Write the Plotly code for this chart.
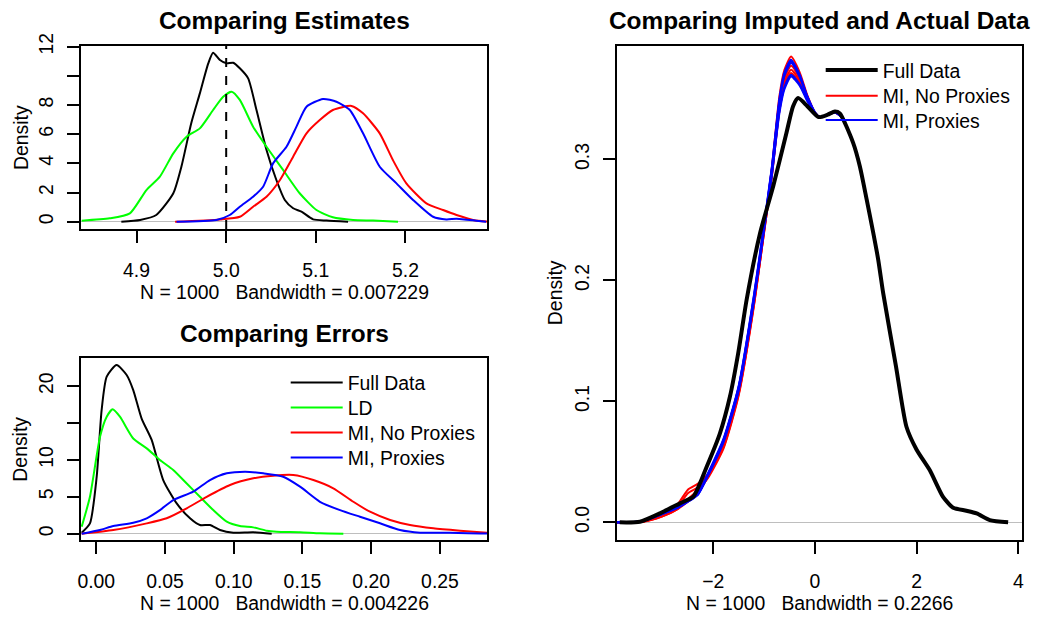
import plotly.graph_objects as go

# ---------------- data: Comparing Estimates (top-left) ----------------
EST_FULL_X = [4.883, 4.904, 4.922, 4.941, 4.950, 4.961, 4.9706, 4.980, 4.9854, 4.993, 5.0004, 5.0078,
              5.0152, 5.0245, 5.0338, 5.045, 5.056, 5.0654, 5.0747, 5.084, 5.097, 5.112, 5.136]
EST_FULL_Y = [0.0, 0.12, 0.46, 1.95, 3.77, 6.75, 8.8, 10.86, 11.59, 11.09, 10.86, 10.9,
              10.52, 9.83, 7.66, 4.92, 2.86, 1.49, 0.92, 0.69, 0.16, 0.08, 0.0]

EST_LD_X = [4.8387, 4.870, 4.8925, 4.911, 4.926, 4.941, 4.9558, 4.9706, 4.9854, 4.9966, 5.006, 5.0152,
            5.030, 5.045, 5.0635, 5.082, 5.1007, 5.119, 5.1416, 5.1638, 5.1917]
EST_LD_Y = [0.07, 0.23, 0.57, 2.17, 3.09, 4.69, 5.83, 6.4, 7.66, 8.57, 8.92, 8.35,
            6.52, 5.14, 3.55, 1.95, 0.80, 0.30, 0.12, 0.08, 0.0]

EST_MINP_X = [4.943, 4.993, 5.0152, 5.030, 5.045, 5.060, 5.0747, 5.0896, 5.1044, 5.119, 5.1398, 5.1527,
              5.1713, 5.186, 5.201, 5.2234, 5.242, 5.257, 5.2754, 5.29, 5.30]
EST_MINP_Y = [0.0, 0.16, 0.34, 1.03, 1.71, 2.86, 4.46, 6.06, 6.97, 7.66, 7.94, 7.43,
              6.06, 4.23, 2.63, 1.26, 0.80, 0.46, 0.12, 0.02, 0.0]

EST_MIP_X = [4.9446, 4.989, 5.004, 5.0152, 5.030, 5.0412, 5.0523, 5.0673, 5.0784, 5.0896, 5.108, 5.123,
             5.1379, 5.1527, 5.1713, 5.190, 5.2085, 5.2308, 5.2457, 5.257, 5.279, 5.29]
EST_MIP_Y = [0.0, 0.12, 0.46, 1.03, 1.71, 2.4, 4.0, 5.14, 6.52, 7.89, 8.42, 8.23,
             7.66, 6.06, 3.77, 2.63, 1.49, 0.34, 0.16, 0.2, 0.07, 0.0]

TRUE_VALUE = 5.0

# ---------------- data: Comparing Errors (bottom-left) ----------------
ERR_FULL_X = [-0.0106, -0.0046, 0.0003, 0.0039, 0.0076, 0.0148, 0.0221, 0.0269, 0.033, 0.0403, 0.0487,
              0.0585, 0.0682, 0.0754, 0.0827, 0.09, 0.0997, 0.1142, 0.1276]
ERR_FULL_Y = [0.14, 1.4, 7.7, 16.75, 21.27, 22.85, 21.5, 19.46, 15.6, 12.7, 7.27,
              4.1, 2.09, 1.18, 1.18, 0.5, 0.14, 0.2, 0.0]

ERR_LD_X = [-0.0106, -0.0046, 0.0027, 0.0076, 0.0119, 0.0172, 0.0269, 0.0367, 0.0463, 0.056, 0.0658,
            0.0754, 0.0851, 0.0949, 0.1045, 0.1142, 0.124, 0.1312, 0.1482, 0.1627, 0.1797]
ERR_LD_Y = [0.95, 5.0, 13.1, 15.85, 16.85, 15.85, 12.9, 11.56, 9.98, 8.63, 6.8,
            5.0, 3.2, 1.63, 1.04, 0.86, 0.41, 0.27, 0.2, 0.05, 0.0]

ERR_MINP_X = [-0.0106, 0.0124, 0.0367, 0.0512, 0.0658, 0.0803, 0.0973, 0.1142, 0.1288, 0.1433, 0.1579,
              0.1724, 0.187, 0.1991, 0.2137, 0.2282, 0.2452, 0.2646, 0.2842]
ERR_MINP_Y = [0.0, 0.5, 1.4, 2.09, 3.44, 5.0, 6.6, 7.5, 7.86, 7.95, 7.27,
              6.15, 4.33, 2.98, 1.86, 1.18, 0.73, 0.41, 0.14]

ERR_MIP_X = [-0.0106, 0.0027, 0.0124, 0.0269, 0.0367, 0.0463, 0.056, 0.0706, 0.0827, 0.0949, 0.1082,
             0.1215, 0.136, 0.1482, 0.1627, 0.1773, 0.1918, 0.2064, 0.2209, 0.2355, 0.2573, 0.2842]
ERR_MIP_Y = [0.0, 0.5, 1.04, 1.49, 2.09, 3.2, 4.56, 5.7, 7.27, 8.18, 8.4,
             8.18, 7.72, 6.37, 4.33, 3.2, 2.3, 1.41, 0.5, 0.14, 0.14, 0.02]

# ---------------- data: Comparing Imputed and Actual Data (right) ----------------
FULL_X = [-3.84, -3.443, -3.05, -2.656, -2.394, -2.13, -1.869, -1.672, -1.509, -1.344, -1.08, -0.82, -0.56,
          -0.43, -0.33, -0.15, 0.07, 0.25, 0.39, 0.49, 0.753, 0.885, 1.017, 1.148, 1.245, 1.344, 1.594, 1.80,
          2.0, 2.26, 2.52, 2.72, 2.98, 3.18, 3.44, 3.80]
FULL_Y = [0.0, 0.0005, 0.0074, 0.0157, 0.0212, 0.046, 0.0736, 0.104, 0.140, 0.184, 0.239, 0.278, 0.322,
          0.344, 0.3507, 0.344, 0.335, 0.337, 0.3396, 0.338, 0.3135, 0.294, 0.267, 0.239, 0.217, 0.189, 0.129, 0.079,
          0.060, 0.043, 0.021, 0.012, 0.0096, 0.0074, 0.0019, 0.0]

MI_X = [-3.9, -3.4, -3.0, -2.7, -2.5, -2.3, -2.1, -1.8, -1.5, -1.2, -1.0, -0.85, -0.7, -0.6, -0.47,
        -0.3, -0.15, 0.0, 0.1, 0.25, 0.4, 0.6]

MI_NOPROX_Y = [
    [0, 0.0005, 0.006, 0.015, 0.027, 0.032, 0.040, 0.064, 0.108, 0.182, 0.244, 0.292, 0.352, 0.374, 0.385, 0.372, 0.353, 0.339, 0.335, 0.337, 0.339, 0.332],
    [0, 0.0005, 0.006, 0.013, 0.024, 0.029, 0.039, 0.062, 0.106, 0.180, 0.241, 0.288, 0.345, 0.367, 0.3775, 0.367, 0.351, 0.338, 0.335, 0.337, 0.339, 0.332],
    [0, 0.0005, 0.005, 0.011, 0.019, 0.027, 0.037, 0.061, 0.105, 0.179, 0.240, 0.286, 0.342, 0.364, 0.3742, 0.365, 0.350, 0.338, 0.335, 0.337, 0.339, 0.332],
    [0, 0.0005, 0.005, 0.011, 0.017, 0.024, 0.038, 0.063, 0.107, 0.181, 0.240, 0.285, 0.340, 0.361, 0.3714, 0.363, 0.349, 0.338, 0.335, 0.337, 0.339, 0.332],
    [0, 0.0005, 0.006, 0.012, 0.018, 0.025, 0.039, 0.065, 0.109, 0.183, 0.243, 0.290, 0.348, 0.370, 0.380, 0.369, 0.352, 0.338, 0.335, 0.337, 0.339, 0.332],
]
MI_PROX_Y = [
    [0, 0.001, 0.007, 0.013, 0.018, 0.024, 0.041, 0.069, 0.113, 0.188, 0.247, 0.293, 0.350, 0.372, 0.3824, 0.370, 0.352, 0.339, 0.335, 0.337, 0.339, 0.332],
    [0, 0.001, 0.007, 0.013, 0.018, 0.024, 0.040, 0.068, 0.112, 0.187, 0.246, 0.292, 0.348, 0.370, 0.381, 0.369, 0.352, 0.339, 0.335, 0.337, 0.339, 0.332],
    [0, 0.001, 0.007, 0.013, 0.018, 0.024, 0.040, 0.068, 0.112, 0.186, 0.245, 0.291, 0.347, 0.369, 0.3797, 0.368, 0.351, 0.338, 0.335, 0.337, 0.339, 0.332],
    [0, 0.001, 0.007, 0.012, 0.017, 0.023, 0.039, 0.067, 0.110, 0.184, 0.243, 0.287, 0.340, 0.360, 0.370, 0.362, 0.349, 0.338, 0.335, 0.337, 0.339, 0.332],
    [0, 0.001, 0.007, 0.012, 0.017, 0.023, 0.039, 0.066, 0.109, 0.183, 0.242, 0.286, 0.338, 0.358, 0.3686, 0.361, 0.348, 0.338, 0.335, 0.337, 0.339, 0.332],
]

# ---------------- labels & ticks ----------------
TITLES = ["Comparing Estimates", "Comparing Errors", "Comparing Imputed and Actual Data"]
XLABELS = ["N = 1000   Bandwidth = 0.007229", "N = 1000   Bandwidth = 0.004226", "N = 1000   Bandwidth = 0.2266"]
EST_XTICKS = [4.9, 5.0, 5.1, 5.2]
EST_XTEXT = ["4.9", "5.0", "5.1", "5.2"]
EST_YTICKS = [0, 2, 4, 6, 8, 10, 12]
EST_YTEXT = ["0", "2", "4", "6", "8", "", "12"]
ERR_XTICKS = [0.0, 0.05, 0.10, 0.15, 0.20, 0.25]
ERR_XTEXT = ["0.00", "0.05", "0.10", "0.15", "0.20", "0.25"]
ERR_YTICKS = [0, 5, 10, 15, 20]
ERR_YTEXT = ["0", "5", "10", "", "20"]
IMP_XTICKS = [-2, 0, 2, 4]
IMP_XTEXT = ["\u22122", "0", "2", "4"]
IMP_YTICKS = [0.0, 0.1, 0.2, 0.3]
IMP_YTEXT = ["0.0", "0.1", "0.2", "0.3"]

FONT = "Liberation Sans, Arial, Helvetica, sans-serif"
TICK_SIZE = 19.4
TITLE_SIZE = 24.4

# page body has an 8px default margin: figure is drawn 8px in from the window corner
OFF = 8
W, H = 1042 - OFF, 618 - OFF


def fx(px):
    return (px - OFF) / W


def fy(py):
    return 1 - (py - OFF) / H


fig = go.Figure()

# top-left
for x, y, c in [(EST_FULL_X, EST_FULL_Y, "black"), (EST_LD_X, EST_LD_Y, "#00FF00"),
                (EST_MINP_X, EST_MINP_Y, "#FF0000"), (EST_MIP_X, EST_MIP_Y, "#0000FF")]:
    fig.add_trace(go.Scatter(x=x, y=y, mode="lines", line=dict(color=c, width=2, shape="spline", smoothing=0.6),
                             xaxis="x", yaxis="y", showlegend=False, hoverinfo="skip"))

# bottom-left (one legend box per entry, stacked like the R legend)
for x, y, c, n, lg in [(ERR_FULL_X, ERR_FULL_Y, "black", "Full Data", "legend"),
                       (ERR_LD_X, ERR_LD_Y, "#00FF00", "LD", "legend2"),
                       (ERR_MINP_X, ERR_MINP_Y, "#FF0000", "MI, No Proxies", "legend3"),
                       (ERR_MIP_X, ERR_MIP_Y, "#0000FF", "MI, Proxies", "legend4")]:
    fig.add_trace(go.Scatter(x=x, y=y, mode="lines", name=n, line=dict(color=c, width=2, shape="spline", smoothing=0.6),
                             xaxis="x2", yaxis="y2", legend=lg, hoverinfo="skip"))

# right
for i, y in enumerate(MI_NOPROX_Y):
    fig.add_trace(go.Scatter(x=MI_X, y=y, mode="lines", name="MI, No Proxies",
                             line=dict(color="#FF0000", width=2, shape="spline", smoothing=0.6),
                             xaxis="x3", yaxis="y3", legend="legend6",
                             showlegend=(i == 0), hoverinfo="skip"))
for i, y in enumerate(MI_PROX_Y):
    fig.add_trace(go.Scatter(x=MI_X, y=y, mode="lines", name="MI, Proxies",
                             line=dict(color="#0000FF", width=2, shape="spline", smoothing=0.6),
                             xaxis="x3", yaxis="y3", legend="legend7",
                             showlegend=(i == 0), hoverinfo="skip"))
fig.add_trace(go.Scatter(x=FULL_X, y=FULL_Y, mode="lines", name="Full Data",
                         line=dict(color="black", width=4, shape="spline", smoothing=0.6),
                         xaxis="x3", yaxis="y3", legend="legend5", hoverinfo="skip"))

fig.add_shape(type="line", x0=TRUE_VALUE, x1=TRUE_VALUE, y0=0, y1=1, xref="x", yref="y domain",
              line=dict(color="black", width=2, dash="dash"))

TL = dict(x=[fx(81), fx(487)], y=[fy(229), fy(46)])
BL = dict(x=[fx(81), fx(487)], y=[fy(540), fy(358.3)])
RP = dict(x=[fx(616.7), fx(1022)], y=[fy(540), fy(46.3)])

ax_common = dict(showline=True, mirror=True, linecolor="black", linewidth=2, ticks="outside", ticklen=12,
                 tickwidth=1.6, tickcolor="black", showgrid=False, automargin=False,
                 tickfont=dict(family=FONT, size=TICK_SIZE, color="black"), tickmode="array")
xax = dict(ax_common, zeroline=False, ticklabelstandoff=11)
yax = dict(ax_common, zeroline=True, zerolinecolor="#BEBEBE", zerolinewidth=1, tickangle=-90, ticklabelstandoff=6)


def leg(line_x, row_y):
    return dict(x=fx(line_x - 6), y=fy(row_y - 20), xanchor="left", yanchor="top", bgcolor="rgba(0,0,0,0)",
                font=dict(family=FONT, size=TICK_SIZE, color="black"), itemwidth=52, tracegroupgap=0)


fig.update_layout(
    width=W, height=H, margin=dict(l=0, r=0, t=0, b=0, autoexpand=False),
    paper_bgcolor="white", plot_bgcolor="white",
    font=dict(family=FONT, color="black"),
    xaxis=dict(xax, domain=TL["x"], range=[4.838, 5.291], tickvals=EST_XTICKS, ticktext=EST_XTEXT, anchor="y"),
    yaxis=dict(yax, domain=TL["y"], range=[-0.50, 12.05], tickvals=EST_YTICKS, ticktext=EST_YTEXT, anchor="x"),
    xaxis2=dict(xax, domain=BL["x"], range=[-0.0111, 0.2842], tickvals=ERR_XTICKS, ticktext=ERR_XTEXT, anchor="y2"),
    yaxis2=dict(yax, domain=BL["y"], range=[-0.85, 23.76], tickvals=ERR_YTICKS, ticktext=ERR_YTEXT, anchor="x2"),
    xaxis3=dict(xax, domain=RP["x"], range=[-3.90, 4.073], tickvals=IMP_XTICKS, ticktext=IMP_XTEXT, anchor="y3"),
    yaxis3=dict(yax, domain=RP["y"], range=[-0.0146, 0.3935], tickvals=IMP_YTICKS, ticktext=IMP_YTEXT, anchor="x3"),
    legend=leg(291.7, 383.3),
    legend2=leg(291.7, 408.3),
    legend3=leg(291.7, 433.3),
    legend4=leg(291.7, 458.3),
    legend5=leg(826.7, 71),
    legend6=leg(826.7, 96.7),
    legend7=leg(826.7, 121),
)

anns = []
for (dom, title, xl, ty, xy) in [(TL, TITLES[0], XLABELS[0], 20.5, 291.7),
                                 (BL, TITLES[1], XLABELS[1], 333.3, 603.3),
                                 (RP, TITLES[2], XLABELS[2], 20.5, 603.3)]:
    cx = (dom["x"][0] + dom["x"][1]) / 2
    anns.append(dict(text="<b>" + title + "</b>", x=cx, y=fy(ty), xref="paper", yref="paper",
                     xanchor="center", yanchor="middle", showarrow=False,
                     font=dict(family=FONT, size=TITLE_SIZE, color="black")))
    anns.append(dict(text=xl.replace(" ", "\u00a0"), x=cx, y=fy(xy), xref="paper", yref="paper",
                     xanchor="center", yanchor="middle", showarrow=False,
                     font=dict(family=FONT, size=TICK_SIZE, color="black")))
for dom, dx in [(TL, 20.5), (BL, 20.5), (RP, 555)]:
    cy = (dom["y"][0] + dom["y"][1]) / 2
    anns.append(dict(text="Density", x=fx(dx), y=cy, xref="paper", yref="paper", textangle=-90,
                     xanchor="center", yanchor="middle", showarrow=False,
                     font=dict(family=FONT, size=TICK_SIZE, color="black")))
fig.update_layout(annotations=anns)

fig.write_html("out.html")
